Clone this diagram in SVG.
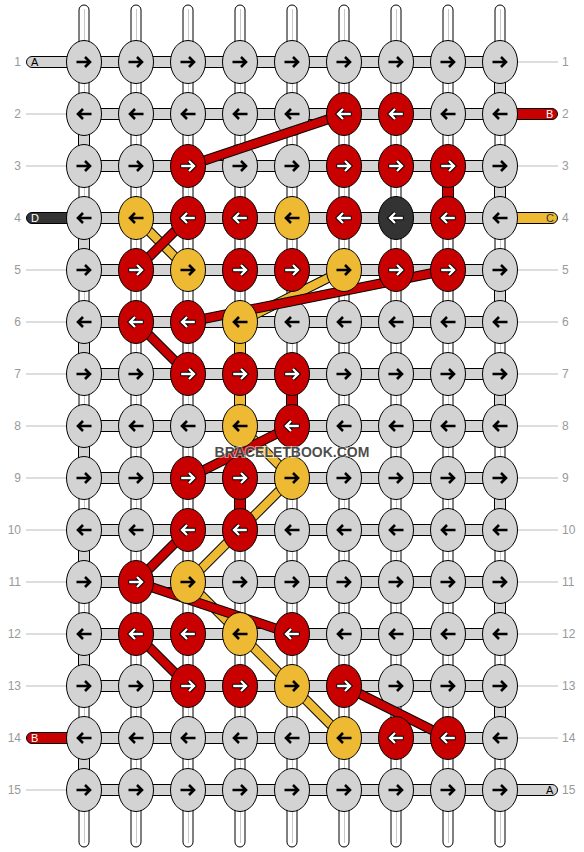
<svg xmlns="http://www.w3.org/2000/svg" width="584" height="852" viewBox="0 0 584 852">
<style>
.bar{fill:#d3d3d3;stroke:#000;stroke-width:1}
.str{fill:#fff;stroke:#000;stroke-width:1}
.strl{stroke:#c8c8c8;stroke-width:1}
.g{fill:#d3d3d3;stroke:#000;stroke-width:1}
.r{fill:#c80000;stroke:#000;stroke-width:1}
.y{fill:#eeba33;stroke:#000;stroke-width:1}
.d{fill:#333;stroke:#000;stroke-width:1}
.num{font-family:"Liberation Sans",Arial,sans-serif;font-size:12px;fill:#999}
.rl{stroke:#bbb;stroke-width:1}
.stl{font-family:"Liberation Sans",Arial,sans-serif;font-size:11px}
.co{fill:none;stroke:#000;stroke-width:10;stroke-linecap:butt}
.cr{fill:none;stroke:#c80000;stroke-width:8}
.cy{fill:none;stroke:#eeba33;stroke-width:8}
.wm{font-family:"Liberation Sans",Arial,sans-serif;font-size:14px;font-weight:bold;fill:#333;fill-opacity:.88;stroke:#fff;stroke-opacity:.55;stroke-width:2;paint-order:stroke}
</style>
<defs>
<g id="rb"><path d="M-7.5,0H5.5M1,-5L6,0L1,5" fill="none" stroke="#000" stroke-width="2.6"/></g>
<g id="lb"><path d="M7.5,0H-5.5M-1,-5L-6,0L-1,5" fill="none" stroke="#000" stroke-width="2.6"/></g>
<g id="rw"><path d="M-7.5,0H5.5M1,-5L6,0L1,5" fill="none" stroke="#000" stroke-width="4.4"/><path d="M-6.8,0H5.2M1,-5L6,0L1,5" fill="none" stroke="#fff" stroke-width="2.4"/></g>
<g id="lw"><path d="M7.5,0H-5.5M-1,-5L-6,0L-1,5" fill="none" stroke="#000" stroke-width="4.4"/><path d="M6.8,0H-5.2M-1,-5L-6,0L-1,5" fill="none" stroke="#fff" stroke-width="2.4"/></g>
</defs>
<rect width="584" height="852" fill="#fff"/>
<g id="labels">
<text class="num" x="21" y="66" text-anchor="end">1</text><text class="num" x="562" y="66">1</text>
<text class="num" x="21" y="118" text-anchor="end">2</text><text class="num" x="562" y="118">2</text>
<text class="num" x="21" y="170" text-anchor="end">3</text><text class="num" x="562" y="170">3</text>
<text class="num" x="21" y="222" text-anchor="end">4</text><text class="num" x="562" y="222">4</text>
<text class="num" x="21" y="274" text-anchor="end">5</text><text class="num" x="562" y="274">5</text>
<text class="num" x="21" y="326" text-anchor="end">6</text><text class="num" x="562" y="326">6</text>
<text class="num" x="21" y="378" text-anchor="end">7</text><text class="num" x="562" y="378">7</text>
<text class="num" x="21" y="430" text-anchor="end">8</text><text class="num" x="562" y="430">8</text>
<text class="num" x="21" y="482" text-anchor="end">9</text><text class="num" x="562" y="482">9</text>
<text class="num" x="21" y="534" text-anchor="end">10</text><text class="num" x="562" y="534">10</text>
<text class="num" x="21" y="586" text-anchor="end">11</text><text class="num" x="562" y="586">11</text>
<text class="num" x="21" y="638" text-anchor="end">12</text><text class="num" x="562" y="638">12</text>
<text class="num" x="21" y="690" text-anchor="end">13</text><text class="num" x="562" y="690">13</text>
<text class="num" x="21" y="742" text-anchor="end">14</text><text class="num" x="562" y="742">14</text>
<text class="num" x="21" y="794" text-anchor="end">15</text><text class="num" x="562" y="794">15</text>
<path class="rl" d="M518,62H558M26,114H66M26,166H66M518,166H558M26,270H66M518,270H558M26,322H66M518,322H558M26,374H66M518,374H558M26,426H66M518,426H558M26,478H66M518,478H558M26,530H66M518,530H558M26,582H66M518,582H558M26,634H66M518,634H558M26,686H66M518,686H558M518,738H558M26,790H66"/>
</g>
<g id="strands">
<rect class="str" x="79" y="5" width="10" height="842" rx="5"/><rect class="str" x="131" y="5" width="10" height="842" rx="5"/><rect class="str" x="183" y="5" width="10" height="842" rx="5"/><rect class="str" x="235" y="5" width="10" height="842" rx="5"/><rect class="str" x="287" y="5" width="10" height="842" rx="5"/><rect class="str" x="339" y="5" width="10" height="842" rx="5"/><rect class="str" x="391" y="5" width="10" height="842" rx="5"/><rect class="str" x="443" y="5" width="10" height="842" rx="5"/><rect class="str" x="495" y="5" width="10" height="842" rx="5"/>
<path class="strl" d="M84.5,9V843M136.5,9V843M188.5,9V843M240.5,9V843M292.5,9V843M344.5,9V843M396.5,9V843M448.5,9V843M500.5,9V843"/>
</g>
<g id="gaps">
<rect class="bar" x="494.5" y="79" width="11" height="18"/><rect class="bar" x="494.5" y="183" width="11" height="18"/><rect class="bar" x="494.5" y="287" width="11" height="18"/><rect class="bar" x="494.5" y="391" width="11" height="18"/><rect class="bar" x="494.5" y="495" width="11" height="18"/><rect class="bar" x="494.5" y="599" width="11" height="18"/><rect class="bar" x="494.5" y="703" width="11" height="18"/>
<rect class="bar" x="78.5" y="131" width="11" height="18"/><rect class="bar" x="78.5" y="235" width="11" height="18"/><rect class="bar" x="78.5" y="339" width="11" height="18"/><rect class="bar" x="78.5" y="443" width="11" height="18"/><rect class="bar" x="78.5" y="547" width="11" height="18"/><rect class="bar" x="78.5" y="651" width="11" height="18"/><rect class="bar" x="78.5" y="755" width="11" height="18"/>
<rect class="r" x="442.5" y="183" width="11" height="18"/>
<rect class="y" x="234.5" y="339" width="11" height="18"/>
<rect class="y" x="234.5" y="391" width="11" height="18"/>
<rect class="r" x="286.5" y="391" width="11" height="18"/>
<rect class="r" x="234.5" y="495" width="11" height="18"/>
</g>
<g id="rows">
<rect class="bar" x="84" y="56.5" width="416" height="11"/><rect class="bar" x="84" y="108.5" width="416" height="11"/><rect class="bar" x="84" y="160.5" width="416" height="11"/><rect class="bar" x="84" y="212.5" width="416" height="11"/><rect class="bar" x="84" y="264.5" width="416" height="11"/><rect class="bar" x="84" y="316.5" width="416" height="11"/><rect class="bar" x="84" y="368.5" width="416" height="11"/><rect class="bar" x="84" y="420.5" width="416" height="11"/><rect class="bar" x="84" y="472.5" width="416" height="11"/><rect class="bar" x="84" y="524.5" width="416" height="11"/><rect class="bar" x="84" y="576.5" width="416" height="11"/><rect class="bar" x="84" y="628.5" width="416" height="11"/><rect class="bar" x="84" y="680.5" width="416" height="11"/><rect class="bar" x="84" y="732.5" width="416" height="11"/><rect class="bar" x="84" y="784.5" width="416" height="11"/>
</g>
<g id="stubs">
<rect class="bar" x="26.5" y="56.5" width="50" height="11" rx="5.5"/><text class="stl" x="31" y="66" fill="#000">A</text>
<rect class="r" x="507.5" y="108.5" width="50" height="11" rx="5.5"/><text class="stl" x="546" y="118" fill="#fff">B</text>
<rect class="d" x="26.5" y="212.5" width="50" height="11" rx="5.5"/><text class="stl" x="31" y="222" fill="#fff">D</text>
<rect class="y" x="507.5" y="212.5" width="50" height="11" rx="5.5"/><text class="stl" x="546" y="222" fill="#333">C</text>
<rect class="r" x="26.5" y="732.5" width="50" height="11" rx="5.5"/><text class="stl" x="31" y="742" fill="#fff">B</text>
<rect class="bar" x="507.5" y="784.5" width="50" height="11" rx="5.5"/><text class="stl" x="546" y="794" fill="#000">A</text>
</g>
<g id="plain-nodes">
<g id="n1-1"><ellipse class="g" cx="84" cy="62" rx="17.5" ry="21.5"/><use href="#rb" x="84" y="62"/></g>
<g id="n1-2"><ellipse class="g" cx="136" cy="62" rx="17.5" ry="21.5"/><use href="#rb" x="136" y="62"/></g>
<g id="n1-3"><ellipse class="g" cx="188" cy="62" rx="17.5" ry="21.5"/><use href="#rb" x="188" y="62"/></g>
<g id="n1-4"><ellipse class="g" cx="240" cy="62" rx="17.5" ry="21.5"/><use href="#rb" x="240" y="62"/></g>
<g id="n1-5"><ellipse class="g" cx="292" cy="62" rx="17.5" ry="21.5"/><use href="#rb" x="292" y="62"/></g>
<g id="n1-6"><ellipse class="g" cx="344" cy="62" rx="17.5" ry="21.5"/><use href="#rb" x="344" y="62"/></g>
<g id="n1-7"><ellipse class="g" cx="396" cy="62" rx="17.5" ry="21.5"/><use href="#rb" x="396" y="62"/></g>
<g id="n1-8"><ellipse class="g" cx="448" cy="62" rx="17.5" ry="21.5"/><use href="#rb" x="448" y="62"/></g>
<g id="n1-9"><ellipse class="g" cx="500" cy="62" rx="17.5" ry="21.5"/><use href="#rb" x="500" y="62"/></g>
<g id="n2-1"><ellipse class="g" cx="84" cy="114" rx="17.5" ry="21.5"/><use href="#lb" x="84" y="114"/></g>
<g id="n2-2"><ellipse class="g" cx="136" cy="114" rx="17.5" ry="21.5"/><use href="#lb" x="136" y="114"/></g>
<g id="n2-3"><ellipse class="g" cx="188" cy="114" rx="17.5" ry="21.5"/><use href="#lb" x="188" y="114"/></g>
<g id="n2-4"><ellipse class="g" cx="240" cy="114" rx="17.5" ry="21.5"/><use href="#lb" x="240" y="114"/></g>
<g id="n2-5"><ellipse class="g" cx="292" cy="114" rx="17.5" ry="21.5"/><use href="#lb" x="292" y="114"/></g>
<g id="n2-8"><ellipse class="g" cx="448" cy="114" rx="17.5" ry="21.5"/><use href="#lb" x="448" y="114"/></g>
<g id="n2-9"><ellipse class="g" cx="500" cy="114" rx="17.5" ry="21.5"/><use href="#lb" x="500" y="114"/></g>
<g id="n3-1"><ellipse class="g" cx="84" cy="166" rx="17.5" ry="21.5"/><use href="#rb" x="84" y="166"/></g>
<g id="n3-2"><ellipse class="g" cx="136" cy="166" rx="17.5" ry="21.5"/><use href="#rb" x="136" y="166"/></g>
<g id="n3-4"><ellipse class="g" cx="240" cy="166" rx="17.5" ry="21.5"/><use href="#rb" x="240" y="166"/></g>
<g id="n3-5"><ellipse class="g" cx="292" cy="166" rx="17.5" ry="21.5"/><use href="#rb" x="292" y="166"/></g>
<g id="n3-9"><ellipse class="g" cx="500" cy="166" rx="17.5" ry="21.5"/><use href="#rb" x="500" y="166"/></g>
<g id="n4-1"><ellipse class="g" cx="84" cy="218" rx="17.5" ry="21.5"/><use href="#lb" x="84" y="218"/></g>
<g id="n4-9"><ellipse class="g" cx="500" cy="218" rx="17.5" ry="21.5"/><use href="#lb" x="500" y="218"/></g>
<g id="n5-1"><ellipse class="g" cx="84" cy="270" rx="17.5" ry="21.5"/><use href="#rb" x="84" y="270"/></g>
<g id="n5-9"><ellipse class="g" cx="500" cy="270" rx="17.5" ry="21.5"/><use href="#rb" x="500" y="270"/></g>
<g id="n6-1"><ellipse class="g" cx="84" cy="322" rx="17.5" ry="21.5"/><use href="#lb" x="84" y="322"/></g>
<g id="n6-5"><ellipse class="g" cx="292" cy="322" rx="17.5" ry="21.5"/><use href="#lb" x="292" y="322"/></g>
<g id="n6-6"><ellipse class="g" cx="344" cy="322" rx="17.5" ry="21.5"/><use href="#lb" x="344" y="322"/></g>
<g id="n6-7"><ellipse class="g" cx="396" cy="322" rx="17.5" ry="21.5"/><use href="#lb" x="396" y="322"/></g>
<g id="n6-8"><ellipse class="g" cx="448" cy="322" rx="17.5" ry="21.5"/><use href="#lb" x="448" y="322"/></g>
<g id="n6-9"><ellipse class="g" cx="500" cy="322" rx="17.5" ry="21.5"/><use href="#lb" x="500" y="322"/></g>
<g id="n7-1"><ellipse class="g" cx="84" cy="374" rx="17.5" ry="21.5"/><use href="#rb" x="84" y="374"/></g>
<g id="n7-2"><ellipse class="g" cx="136" cy="374" rx="17.5" ry="21.5"/><use href="#rb" x="136" y="374"/></g>
<g id="n7-6"><ellipse class="g" cx="344" cy="374" rx="17.5" ry="21.5"/><use href="#rb" x="344" y="374"/></g>
<g id="n7-7"><ellipse class="g" cx="396" cy="374" rx="17.5" ry="21.5"/><use href="#rb" x="396" y="374"/></g>
<g id="n7-8"><ellipse class="g" cx="448" cy="374" rx="17.5" ry="21.5"/><use href="#rb" x="448" y="374"/></g>
<g id="n7-9"><ellipse class="g" cx="500" cy="374" rx="17.5" ry="21.5"/><use href="#rb" x="500" y="374"/></g>
<g id="n8-1"><ellipse class="g" cx="84" cy="426" rx="17.5" ry="21.5"/><use href="#lb" x="84" y="426"/></g>
<g id="n8-2"><ellipse class="g" cx="136" cy="426" rx="17.5" ry="21.5"/><use href="#lb" x="136" y="426"/></g>
<g id="n8-3"><ellipse class="g" cx="188" cy="426" rx="17.5" ry="21.5"/><use href="#lb" x="188" y="426"/></g>
<g id="n8-6"><ellipse class="g" cx="344" cy="426" rx="17.5" ry="21.5"/><use href="#lb" x="344" y="426"/></g>
<g id="n8-7"><ellipse class="g" cx="396" cy="426" rx="17.5" ry="21.5"/><use href="#lb" x="396" y="426"/></g>
<g id="n8-8"><ellipse class="g" cx="448" cy="426" rx="17.5" ry="21.5"/><use href="#lb" x="448" y="426"/></g>
<g id="n8-9"><ellipse class="g" cx="500" cy="426" rx="17.5" ry="21.5"/><use href="#lb" x="500" y="426"/></g>
<g id="n9-1"><ellipse class="g" cx="84" cy="478" rx="17.5" ry="21.5"/><use href="#rb" x="84" y="478"/></g>
<g id="n9-2"><ellipse class="g" cx="136" cy="478" rx="17.5" ry="21.5"/><use href="#rb" x="136" y="478"/></g>
<g id="n9-6"><ellipse class="g" cx="344" cy="478" rx="17.5" ry="21.5"/><use href="#rb" x="344" y="478"/></g>
<g id="n9-7"><ellipse class="g" cx="396" cy="478" rx="17.5" ry="21.5"/><use href="#rb" x="396" y="478"/></g>
<g id="n9-8"><ellipse class="g" cx="448" cy="478" rx="17.5" ry="21.5"/><use href="#rb" x="448" y="478"/></g>
<g id="n9-9"><ellipse class="g" cx="500" cy="478" rx="17.5" ry="21.5"/><use href="#rb" x="500" y="478"/></g>
<g id="n10-1"><ellipse class="g" cx="84" cy="530" rx="17.5" ry="21.5"/><use href="#lb" x="84" y="530"/></g>
<g id="n10-2"><ellipse class="g" cx="136" cy="530" rx="17.5" ry="21.5"/><use href="#lb" x="136" y="530"/></g>
<g id="n10-5"><ellipse class="g" cx="292" cy="530" rx="17.5" ry="21.5"/><use href="#lb" x="292" y="530"/></g>
<g id="n10-6"><ellipse class="g" cx="344" cy="530" rx="17.5" ry="21.5"/><use href="#lb" x="344" y="530"/></g>
<g id="n10-7"><ellipse class="g" cx="396" cy="530" rx="17.5" ry="21.5"/><use href="#lb" x="396" y="530"/></g>
<g id="n10-8"><ellipse class="g" cx="448" cy="530" rx="17.5" ry="21.5"/><use href="#lb" x="448" y="530"/></g>
<g id="n10-9"><ellipse class="g" cx="500" cy="530" rx="17.5" ry="21.5"/><use href="#lb" x="500" y="530"/></g>
<g id="n11-1"><ellipse class="g" cx="84" cy="582" rx="17.5" ry="21.5"/><use href="#rb" x="84" y="582"/></g>
<g id="n11-4"><ellipse class="g" cx="240" cy="582" rx="17.5" ry="21.5"/><use href="#rb" x="240" y="582"/></g>
<g id="n11-5"><ellipse class="g" cx="292" cy="582" rx="17.5" ry="21.5"/><use href="#rb" x="292" y="582"/></g>
<g id="n11-6"><ellipse class="g" cx="344" cy="582" rx="17.5" ry="21.5"/><use href="#rb" x="344" y="582"/></g>
<g id="n11-7"><ellipse class="g" cx="396" cy="582" rx="17.5" ry="21.5"/><use href="#rb" x="396" y="582"/></g>
<g id="n11-8"><ellipse class="g" cx="448" cy="582" rx="17.5" ry="21.5"/><use href="#rb" x="448" y="582"/></g>
<g id="n11-9"><ellipse class="g" cx="500" cy="582" rx="17.5" ry="21.5"/><use href="#rb" x="500" y="582"/></g>
<g id="n12-1"><ellipse class="g" cx="84" cy="634" rx="17.5" ry="21.5"/><use href="#lb" x="84" y="634"/></g>
<g id="n12-6"><ellipse class="g" cx="344" cy="634" rx="17.5" ry="21.5"/><use href="#lb" x="344" y="634"/></g>
<g id="n12-7"><ellipse class="g" cx="396" cy="634" rx="17.5" ry="21.5"/><use href="#lb" x="396" y="634"/></g>
<g id="n12-8"><ellipse class="g" cx="448" cy="634" rx="17.5" ry="21.5"/><use href="#lb" x="448" y="634"/></g>
<g id="n12-9"><ellipse class="g" cx="500" cy="634" rx="17.5" ry="21.5"/><use href="#lb" x="500" y="634"/></g>
<g id="n13-1"><ellipse class="g" cx="84" cy="686" rx="17.5" ry="21.5"/><use href="#rb" x="84" y="686"/></g>
<g id="n13-2"><ellipse class="g" cx="136" cy="686" rx="17.5" ry="21.5"/><use href="#rb" x="136" y="686"/></g>
<g id="n13-7"><ellipse class="g" cx="396" cy="686" rx="17.5" ry="21.5"/><use href="#rb" x="396" y="686"/></g>
<g id="n13-8"><ellipse class="g" cx="448" cy="686" rx="17.5" ry="21.5"/><use href="#rb" x="448" y="686"/></g>
<g id="n13-9"><ellipse class="g" cx="500" cy="686" rx="17.5" ry="21.5"/><use href="#rb" x="500" y="686"/></g>
<g id="n14-1"><ellipse class="g" cx="84" cy="738" rx="17.5" ry="21.5"/><use href="#lb" x="84" y="738"/></g>
<g id="n14-2"><ellipse class="g" cx="136" cy="738" rx="17.5" ry="21.5"/><use href="#lb" x="136" y="738"/></g>
<g id="n14-3"><ellipse class="g" cx="188" cy="738" rx="17.5" ry="21.5"/><use href="#lb" x="188" y="738"/></g>
<g id="n14-4"><ellipse class="g" cx="240" cy="738" rx="17.5" ry="21.5"/><use href="#lb" x="240" y="738"/></g>
<g id="n14-5"><ellipse class="g" cx="292" cy="738" rx="17.5" ry="21.5"/><use href="#lb" x="292" y="738"/></g>
<g id="n14-9"><ellipse class="g" cx="500" cy="738" rx="17.5" ry="21.5"/><use href="#lb" x="500" y="738"/></g>
<g id="n15-1"><ellipse class="g" cx="84" cy="790" rx="17.5" ry="21.5"/><use href="#rb" x="84" y="790"/></g>
<g id="n15-2"><ellipse class="g" cx="136" cy="790" rx="17.5" ry="21.5"/><use href="#rb" x="136" y="790"/></g>
<g id="n15-3"><ellipse class="g" cx="188" cy="790" rx="17.5" ry="21.5"/><use href="#rb" x="188" y="790"/></g>
<g id="n15-4"><ellipse class="g" cx="240" cy="790" rx="17.5" ry="21.5"/><use href="#rb" x="240" y="790"/></g>
<g id="n15-5"><ellipse class="g" cx="292" cy="790" rx="17.5" ry="21.5"/><use href="#rb" x="292" y="790"/></g>
<g id="n15-6"><ellipse class="g" cx="344" cy="790" rx="17.5" ry="21.5"/><use href="#rb" x="344" y="790"/></g>
<g id="n15-7"><ellipse class="g" cx="396" cy="790" rx="17.5" ry="21.5"/><use href="#rb" x="396" y="790"/></g>
<g id="n15-8"><ellipse class="g" cx="448" cy="790" rx="17.5" ry="21.5"/><use href="#rb" x="448" y="790"/></g>
<g id="n15-9"><ellipse class="g" cx="500" cy="790" rx="17.5" ry="21.5"/><use href="#rb" x="500" y="790"/></g>
</g>
<g id="connectors">
<path class="co" d="M136,218L188,270"/><path class="cy" d="M136,218L188,270"/>
<path class="co" d="M344,270L240,322"/><path class="cy" d="M344,270L240,322"/>
<path class="co" d="M240,426L292,478"/><path class="cy" d="M240,426L292,478"/>
<path class="co" d="M292,478L188,582"/><path class="cy" d="M292,478L188,582"/>
<path class="co" d="M188,582L344,738"/><path class="cy" d="M188,582L344,738"/>
<path class="co" d="M188,166L344,114"/><path class="cr" d="M188,166L344,114"/>
<path class="co" d="M188,218L136,270"/><path class="cr" d="M188,218L136,270"/>
<path class="co" d="M448,270L188,322"/><path class="cr" d="M448,270L188,322"/>
<path class="co" d="M136,322L188,374"/><path class="cr" d="M136,322L188,374"/>
<path class="co" d="M292,426L188,478"/><path class="cr" d="M292,426L188,478"/>
<path class="co" d="M188,530L136,582"/><path class="cr" d="M188,530L136,582"/>
<path class="co" d="M136,582L292,634"/><path class="cr" d="M136,582L292,634"/>
<path class="co" d="M136,634L188,686"/><path class="cr" d="M136,634L188,686"/>
<path class="co" d="M344,686L448,738"/><path class="cr" d="M344,686L448,738"/>
</g>
<g id="color-nodes">
<g id="n2-6"><ellipse class="r" cx="344" cy="114" rx="17.5" ry="21.5"/><use href="#lw" x="344" y="114"/></g>
<g id="n2-7"><ellipse class="r" cx="396" cy="114" rx="17.5" ry="21.5"/><use href="#lw" x="396" y="114"/></g>
<g id="n3-3"><ellipse class="r" cx="188" cy="166" rx="17.5" ry="21.5"/><use href="#rw" x="188" y="166"/></g>
<g id="n3-6"><ellipse class="r" cx="344" cy="166" rx="17.5" ry="21.5"/><use href="#rw" x="344" y="166"/></g>
<g id="n3-7"><ellipse class="r" cx="396" cy="166" rx="17.5" ry="21.5"/><use href="#rw" x="396" y="166"/></g>
<g id="n3-8"><ellipse class="r" cx="448" cy="166" rx="17.5" ry="21.5"/><use href="#rw" x="448" y="166"/></g>
<g id="n4-2"><ellipse class="y" cx="136" cy="218" rx="17.5" ry="21.5"/><use href="#lb" x="136" y="218"/></g>
<g id="n4-3"><ellipse class="r" cx="188" cy="218" rx="17.5" ry="21.5"/><use href="#lw" x="188" y="218"/></g>
<g id="n4-4"><ellipse class="r" cx="240" cy="218" rx="17.5" ry="21.5"/><use href="#lw" x="240" y="218"/></g>
<g id="n4-5"><ellipse class="y" cx="292" cy="218" rx="17.5" ry="21.5"/><use href="#lb" x="292" y="218"/></g>
<g id="n4-6"><ellipse class="r" cx="344" cy="218" rx="17.5" ry="21.5"/><use href="#lw" x="344" y="218"/></g>
<g id="n4-7"><ellipse class="d" cx="396" cy="218" rx="17.5" ry="21.5"/><use href="#lw" x="396" y="218"/></g>
<g id="n4-8"><ellipse class="r" cx="448" cy="218" rx="17.5" ry="21.5"/><use href="#lw" x="448" y="218"/></g>
<g id="n5-2"><ellipse class="r" cx="136" cy="270" rx="17.5" ry="21.5"/><use href="#rw" x="136" y="270"/></g>
<g id="n5-3"><ellipse class="y" cx="188" cy="270" rx="17.5" ry="21.5"/><use href="#rb" x="188" y="270"/></g>
<g id="n5-4"><ellipse class="r" cx="240" cy="270" rx="17.5" ry="21.5"/><use href="#rw" x="240" y="270"/></g>
<g id="n5-5"><ellipse class="r" cx="292" cy="270" rx="17.5" ry="21.5"/><use href="#rw" x="292" y="270"/></g>
<g id="n5-6"><ellipse class="y" cx="344" cy="270" rx="17.5" ry="21.5"/><use href="#rb" x="344" y="270"/></g>
<g id="n5-7"><ellipse class="r" cx="396" cy="270" rx="17.5" ry="21.5"/><use href="#rw" x="396" y="270"/></g>
<g id="n5-8"><ellipse class="r" cx="448" cy="270" rx="17.5" ry="21.5"/><use href="#rw" x="448" y="270"/></g>
<g id="n6-2"><ellipse class="r" cx="136" cy="322" rx="17.5" ry="21.5"/><use href="#lw" x="136" y="322"/></g>
<g id="n6-3"><ellipse class="r" cx="188" cy="322" rx="17.5" ry="21.5"/><use href="#lw" x="188" y="322"/></g>
<g id="n6-4"><ellipse class="y" cx="240" cy="322" rx="17.5" ry="21.5"/><use href="#lb" x="240" y="322"/></g>
<g id="n7-3"><ellipse class="r" cx="188" cy="374" rx="17.5" ry="21.5"/><use href="#rw" x="188" y="374"/></g>
<g id="n7-4"><ellipse class="r" cx="240" cy="374" rx="17.5" ry="21.5"/><use href="#rw" x="240" y="374"/></g>
<g id="n7-5"><ellipse class="r" cx="292" cy="374" rx="17.5" ry="21.5"/><use href="#rw" x="292" y="374"/></g>
<g id="n8-4"><ellipse class="y" cx="240" cy="426" rx="17.5" ry="21.5"/><use href="#lb" x="240" y="426"/></g>
<g id="n8-5"><ellipse class="r" cx="292" cy="426" rx="17.5" ry="21.5"/><use href="#lw" x="292" y="426"/></g>
<g id="n9-3"><ellipse class="r" cx="188" cy="478" rx="17.5" ry="21.5"/><use href="#rw" x="188" y="478"/></g>
<g id="n9-4"><ellipse class="r" cx="240" cy="478" rx="17.5" ry="21.5"/><use href="#rw" x="240" y="478"/></g>
<g id="n9-5"><ellipse class="y" cx="292" cy="478" rx="17.5" ry="21.5"/><use href="#rb" x="292" y="478"/></g>
<g id="n10-3"><ellipse class="r" cx="188" cy="530" rx="17.5" ry="21.5"/><use href="#lw" x="188" y="530"/></g>
<g id="n10-4"><ellipse class="r" cx="240" cy="530" rx="17.5" ry="21.5"/><use href="#lw" x="240" y="530"/></g>
<g id="n11-2"><ellipse class="r" cx="136" cy="582" rx="17.5" ry="21.5"/><use href="#rw" x="136" y="582"/></g>
<g id="n11-3"><ellipse class="y" cx="188" cy="582" rx="17.5" ry="21.5"/><use href="#rb" x="188" y="582"/></g>
<g id="n12-2"><ellipse class="r" cx="136" cy="634" rx="17.5" ry="21.5"/><use href="#lw" x="136" y="634"/></g>
<g id="n12-3"><ellipse class="r" cx="188" cy="634" rx="17.5" ry="21.5"/><use href="#lw" x="188" y="634"/></g>
<g id="n12-4"><ellipse class="y" cx="240" cy="634" rx="17.5" ry="21.5"/><use href="#lb" x="240" y="634"/></g>
<g id="n12-5"><ellipse class="r" cx="292" cy="634" rx="17.5" ry="21.5"/><use href="#lw" x="292" y="634"/></g>
<g id="n13-3"><ellipse class="r" cx="188" cy="686" rx="17.5" ry="21.5"/><use href="#rw" x="188" y="686"/></g>
<g id="n13-4"><ellipse class="r" cx="240" cy="686" rx="17.5" ry="21.5"/><use href="#rw" x="240" y="686"/></g>
<g id="n13-5"><ellipse class="y" cx="292" cy="686" rx="17.5" ry="21.5"/><use href="#rb" x="292" y="686"/></g>
<g id="n13-6"><ellipse class="r" cx="344" cy="686" rx="17.5" ry="21.5"/><use href="#rw" x="344" y="686"/></g>
<g id="n14-6"><ellipse class="y" cx="344" cy="738" rx="17.5" ry="21.5"/><use href="#lb" x="344" y="738"/></g>
<g id="n14-7"><ellipse class="r" cx="396" cy="738" rx="17.5" ry="21.5"/><use href="#lw" x="396" y="738"/></g>
<g id="n14-8"><ellipse class="r" cx="448" cy="738" rx="17.5" ry="21.5"/><use href="#lw" x="448" y="738"/></g>
</g>
<text class="wm" x="292" y="457" text-anchor="middle">BRACELETBOOK.COM</text>
</svg>
